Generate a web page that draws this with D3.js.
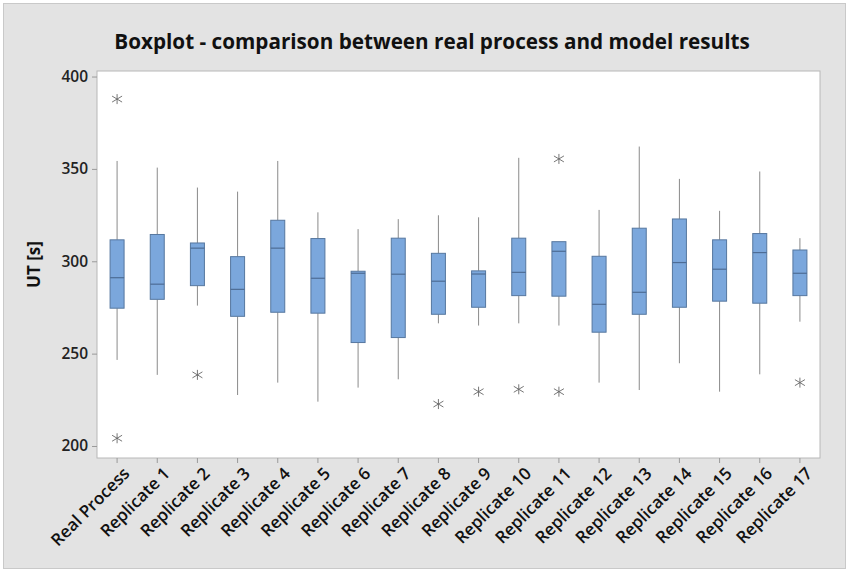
<!DOCTYPE html>
<html><head><meta charset="utf-8">
<script src="https://cdn.jsdelivr.net/npm/d3@7"></script>
<style>body{margin:0;background:#fff}svg{display:block}</style>
</head><body>
<script>
const categories = ["Real Process","Replicate 1","Replicate 2","Replicate 3","Replicate 4","Replicate 5","Replicate 6","Replicate 7","Replicate 8","Replicate 9","Replicate 10","Replicate 11","Replicate 12","Replicate 13","Replicate 14","Replicate 15","Replicate 16","Replicate 17"];
const whiskerLow  = [246.6,238.5,276.0,227.6,234.3,224.0,231.6,236.1,266.4,265.2,266.4,265.2,234.3,230.3,244.8,229.4,238.8,267.3];
const q1          = [274.6,279.4,286.8,270.2,272.4,271.9,256.0,258.7,271.3,275.1,281.4,281.1,261.6,271.3,275.1,278.4,277.3,281.4];
const median      = [291.1,287.6,307.1,284.8,307.1,290.8,293.5,293.0,289.2,293.1,294.0,305.4,276.7,283.2,299.3,295.7,304.7,293.5];
const q3          = [311.6,314.5,309.9,302.5,322.2,312.3,294.6,312.5,304.3,294.8,312.5,310.6,302.7,317.9,322.9,311.6,315.0,306.1];
const whiskerHigh = [354.3,350.7,339.9,337.7,354.3,326.5,317.4,322.8,324.9,323.8,356.0,310.6,327.8,362.1,344.6,327.3,348.6,312.5];
const outliers    = [[387.8,204.2],[],[238.5],[],[],[],[],[],[222.7],[229.4],[230.7],[355.4,229.4],[],[],[],[],[],[234.3]];
const yTicks = [200,250,300,350,400];
const title = "Boxplot - comparison between real process and model results";
const yLabel = "UT [s]";

const W = 849, H = 572;
const m = {left:97, right:29, top:71, bottom:114};
const svg = d3.select("body").append("svg").attr("width",W).attr("height",H);
svg.append("rect").attr("x",3.5).attr("y",3.5).attr("width",W-7).attr("height",H-7)
  .attr("fill","#e3e3e3").attr("stroke","#c9c9c9");
svg.append("rect").attr("x",m.left).attr("y",m.top).attr("width",W-m.left-m.right).attr("height",H-m.top-m.bottom)
  .attr("fill","#fff").attr("stroke","#b8b8b8");

const x = d3.scaleBand().domain(categories).range([m.left, W-m.right]).padding(0);
const y = d3.scaleLinear().domain([193.5, 403]).range([H-m.bottom, m.top]);

const font = "'Open Sans', 'Noto Sans', sans-serif";

svg.append("text").attr("x",432).attr("y",49).attr("text-anchor","middle")
  .attr("font-family",font).attr("font-weight",700).attr("font-size",20.7).attr("fill","#111").text(title);

const ya = svg.append("g").attr("transform",`translate(${m.left},0)`)
  .call(d3.axisLeft(y).tickValues(yTicks).tickSize(5).tickPadding(4));
ya.select(".domain").remove();
ya.selectAll("line").attr("stroke","#9a9a9a");
ya.selectAll("text").attr("font-family",font).attr("font-size",15.5).attr("font-weight",600).attr("fill","#222");

const xa = svg.append("g").attr("transform",`translate(0,${H-m.bottom})`)
  .call(d3.axisBottom(x).tickSize(5).tickPadding(4));
xa.select(".domain").remove();
xa.selectAll("line").attr("stroke","#9a9a9a");
xa.selectAll("text").attr("font-family",font).attr("font-size",17).attr("font-weight",600).attr("fill","#111")
  .attr("text-anchor","end").attr("transform","translate(3,6) rotate(-45)").attr("dy","0.35em");

svg.append("text").attr("transform",`translate(40,${(m.top+H-m.bottom)/2}) rotate(-90)`)
  .attr("text-anchor","middle").attr("font-family",font).attr("font-size",17).attr("font-weight",700)
  .attr("fill","#111").text(yLabel);

const bw = 14;
const g = svg.append("g");
categories.forEach((c,i)=>{
  const cx = x(c) + x.bandwidth()/2;
  g.append("line").attr("x1",cx).attr("x2",cx).attr("y1",y(whiskerLow[i])).attr("y2",y(q1[i])).attr("stroke","#8a8a8a");
  g.append("line").attr("x1",cx).attr("x2",cx).attr("y1",y(q3[i])).attr("y2",y(whiskerHigh[i])).attr("stroke","#8a8a8a");
  g.append("rect").attr("x",cx-bw/2).attr("y",y(q3[i])).attr("width",bw).attr("height",y(q1[i])-y(q3[i]))
    .attr("fill","#7ba7dc").attr("stroke","#56779f");
  g.append("line").attr("x1",cx-bw/2).attr("x2",cx+bw/2).attr("y1",y(median[i])).attr("y2",y(median[i]))
    .attr("stroke","#4d6c95").attr("stroke-width",1.2);
  outliers[i].forEach(v=>{
    const py = y(v), s=5;
    const o = g.append("g").attr("stroke","#666").attr("stroke-width",0.9);
    o.append("line").attr("x1",cx-s).attr("x2",cx+s).attr("y1",py-s*0.6).attr("y2",py+s*0.6);
    o.append("line").attr("x1",cx-s).attr("x2",cx+s).attr("y1",py+s*0.6).attr("y2",py-s*0.6);
    o.append("line").attr("x1",cx).attr("x2",cx).attr("y1",py-s).attr("y2",py+s);
  });
});
</script>
</body></html>
